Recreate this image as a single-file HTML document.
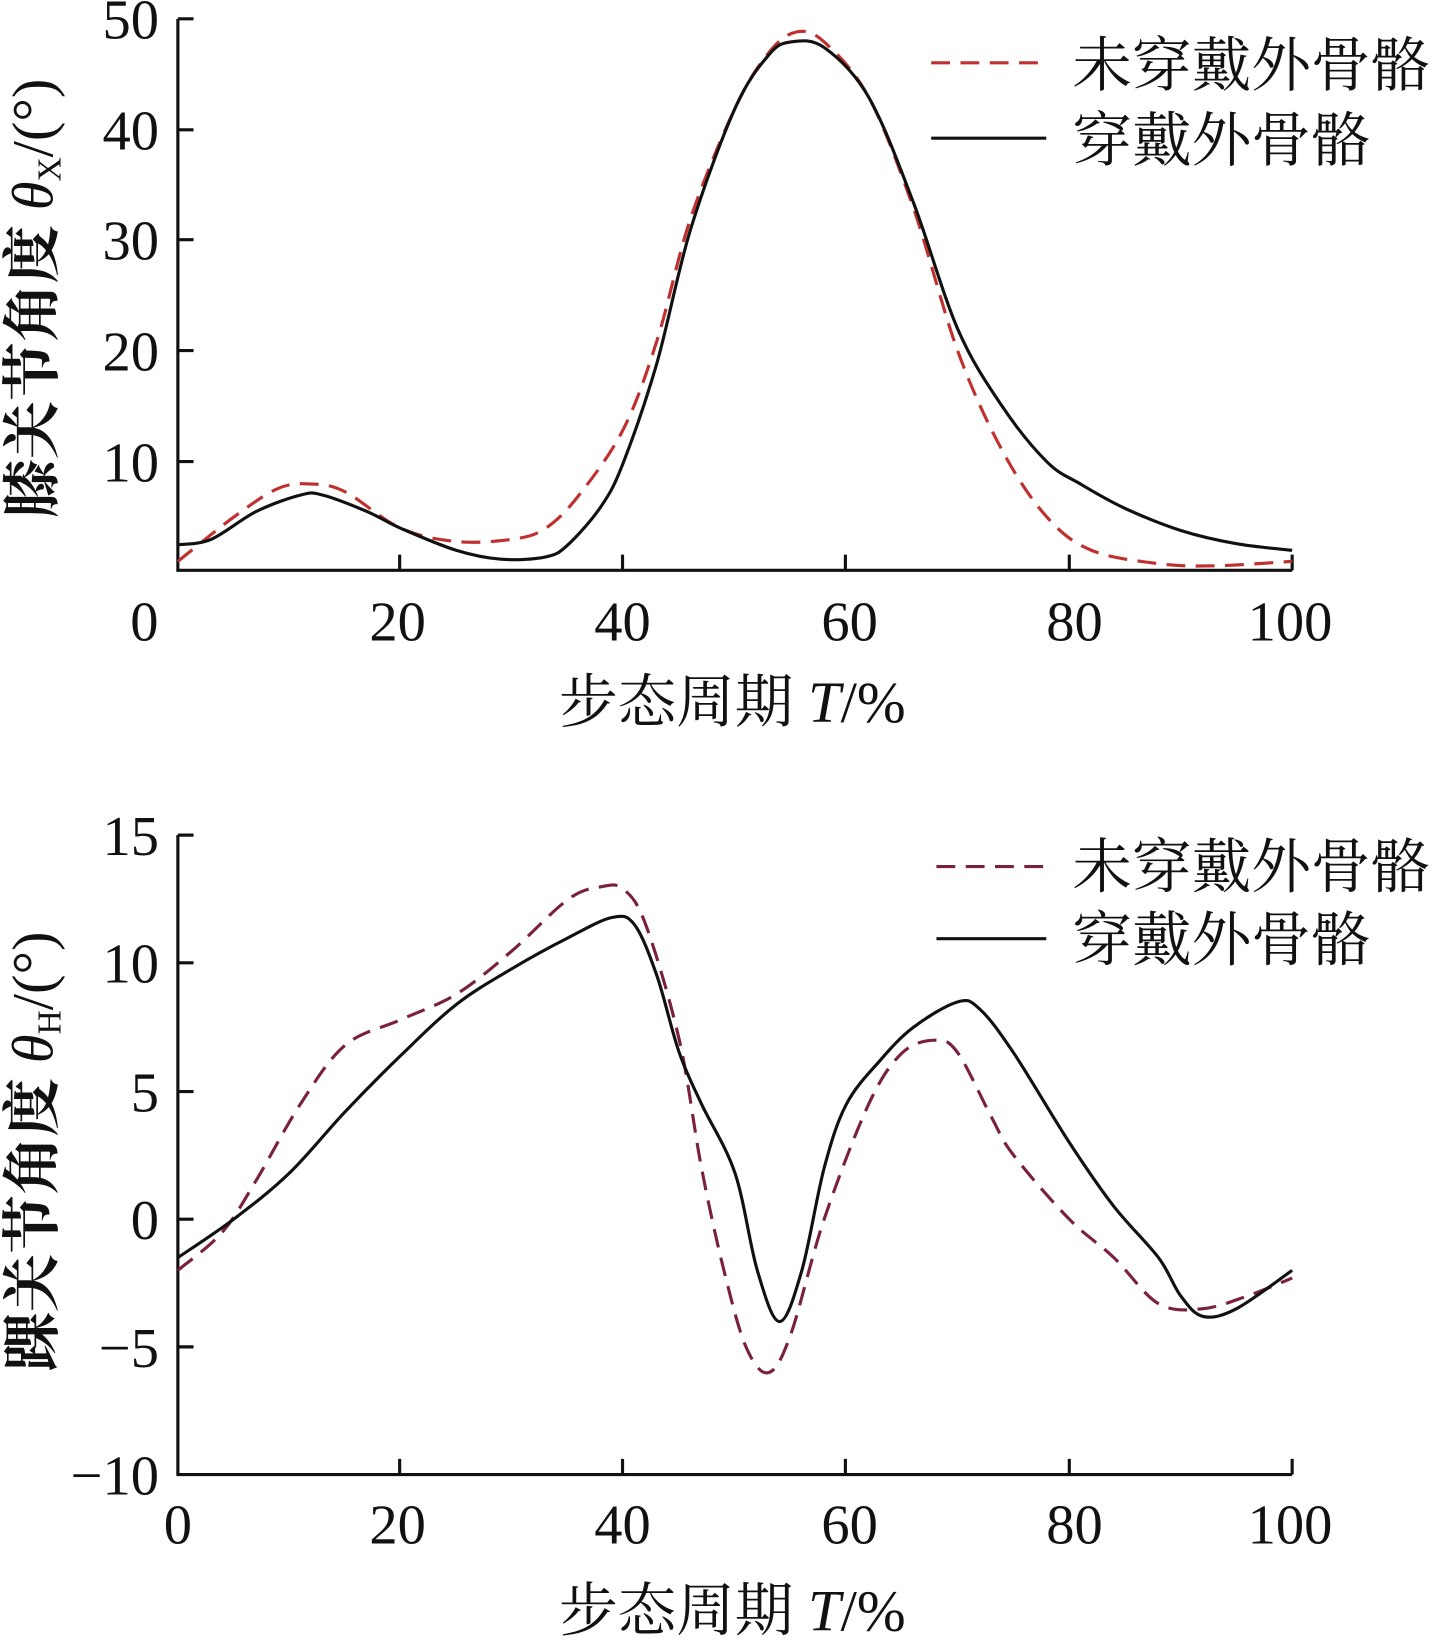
<!DOCTYPE html>
<html><head><meta charset="utf-8"><style>
html,body{margin:0;padding:0;background:#fff}
svg{display:block}
text{font-family:"Liberation Serif","Noto Serif CJK SC","Noto Sans CJK SC",serif;fill:#111}
</style></head><body>
<svg id="s" width="1447" height="1642" viewBox="0 0 1383 1569" preserveAspectRatio="none">
<g stroke="#111" stroke-width="3" fill="none">
<path d="M170 18 V545 H1235"/>
<path d="M170 18 H185 M170 124 H185 M170 229 H185 M170 335 H185 M170 441 H185"/>
<path d="M382 545 V530 M595 545 V530 M808 545 V530 M1022 545 V530 M1235 545 V530"/>
<path d="M170 798 V1409 H1235"/>
<path d="M170 798 H185 M170 920 H185 M170 1043 H185 M170 1165 H185 M170 1287 H185"/>
<path d="M382 1409 V1394 M595 1409 V1394 M808 1409 V1394 M1022 1409 V1394 M1235 1409 V1394"/>
</g>
<g font-size="54" text-anchor="end">
<text x="152" y="37">50</text><text x="152" y="143">40</text><text x="152" y="248">30</text><text x="152" y="354">20</text><text x="152" y="460">10</text>
<text x="152" y="817">15</text><text x="152" y="939">10</text><text x="152" y="1062">5</text><text x="152" y="1184">0</text><text x="152" y="1306">−5</text><text x="152" y="1428">−10</text>
</g>
<g font-size="54" text-anchor="middle">
<text x="138" y="612">0</text><text x="380" y="612">20</text><text x="595" y="612">40</text><text x="812" y="612">60</text><text x="1027" y="612">80</text><text x="1233" y="612">100</text>
<text x="170" y="1475">0</text><text x="380" y="1475">20</text><text x="595" y="1475">40</text><text x="812" y="1475">60</text><text x="1027" y="1475">80</text><text x="1233" y="1475">100</text>
<text x="700" y="690" font-size="56">步态周期 <tspan font-style="italic">T</tspan>/%</text>
<text x="700" y="1558" font-size="56">步态周期 <tspan font-style="italic">T</tspan>/%</text>
</g>
<g font-size="56" text-anchor="middle" font-weight="bold">
<text transform="translate(50 285) rotate(-90)">膝关节角度 <tspan font-style="italic" font-weight="normal">θ</tspan><tspan font-size="32" dy="8" font-weight="normal">X</tspan><tspan dy="-8" font-weight="normal">/(°)</tspan></text>
<text transform="translate(50 1100) rotate(-90)">踝关节角度 <tspan font-style="italic" font-weight="normal">θ</tspan><tspan font-size="32" dy="8" font-weight="normal">H</tspan><tspan dy="-8" font-weight="normal">/(°)</tspan></text>
</g>
<g font-size="57">
<text x="1025" y="82">未穿戴外骨骼</text><text x="1025" y="154">穿戴外骨骼</text>
<text x="1025" y="848">未穿戴外骨骼</text><text x="1025" y="918">穿戴外骨骼</text>
</g>
<path d="M890 60 H1000" stroke="#c0302f" stroke-width="3" stroke-dasharray="18 10"/>
<path d="M890 132 H1000" stroke="#111" stroke-width="3"/>
<path d="M895 828 H1000" stroke="#7a2040" stroke-width="3" stroke-dasharray="18 10"/>
<path d="M895 897 H1000" stroke="#111" stroke-width="3"/>
<g id="curves"></g>
</svg>
<script>
function X(t){return 170+t*10.65;}
function Y1(v){return 547-v*10.56;}
function Y2(v){return 1165-v*24.44;}
function path(pts,Y){
 var p=pts.map(function(a){return [X(a[0]),Y(a[1])];});
 var d="M"+p[0][0].toFixed(1)+" "+p[0][1].toFixed(1);
 for(var i=0;i<p.length-1;i++){
  var p0=p[Math.max(i-1,0)],p1=p[i],p2=p[i+1],p3=p[Math.min(i+2,p.length-1)];
  var c1=[p1[0]+(p2[0]-p0[0])/6,p1[1]+(p2[1]-p0[1])/6];
  var c2=[p2[0]-(p3[0]-p1[0])/6,p2[1]-(p3[1]-p1[1])/6];
  d+=" C"+c1[0].toFixed(1)+" "+c1[1].toFixed(1)+" "+c2[0].toFixed(1)+" "+c2[1].toFixed(1)+" "+p2[0].toFixed(1)+" "+p2[1].toFixed(1);
 }
 return d;
}
var ns="http://www.w3.org/2000/svg",g=document.getElementById("curves");
function add(pts,Y,col,dash){
 var e=document.createElementNS(ns,"path");
 e.setAttribute("d",path(pts,Y));e.setAttribute("fill","none");
 e.setAttribute("stroke",col);e.setAttribute("stroke-width","3");
 if(dash)e.setAttribute("stroke-dasharray","18 10");
 g.appendChild(e);
}
add([[0,1],[5,5],[9,7.6],[12,8],[15,7.3],[20,4],[25,2.8],[30,3],[33,4],[36,7],[40,13],[43,21],[46,32],[50,42],[53,47],[55.5,48.9],[58,48],[62,43],[66,33],[70,20],[74,11],[78,5],[82,2],[88,0.8],[93,0.6],[100,1]],Y1,"#c0302f",true);
add([[0,2.5],[3,3],[7,5.5],[11,7],[13,7],[17,5.5],[20,4],[25,2],[29,1.2],[33,1.4],[35,2.5],[38,6],[40,10],[43,19],[46,31],[50,42],[53,46.8],[55,48],[58,47.5],[62,43],[66,33.5],[70,22],[74,15],[78,10],[81,8],[85,5.8],[90,3.8],[95,2.6],[100,2]],Y1,"#111",false);
add([[0,-2],[4,-0.5],[7,1.5],[11,4.5],[15,6.8],[20,7.8],[25,8.8],[30,10.5],[35,12.5],[38,13],[40,12.9],[42,11.5],[45,7],[47,2],[49,-2],[51,-5],[53,-6],[55,-4.5],[58,0],[62,4.5],[65,6.5],[68,7],[70,6.5],[73,4],[75,2.5],[80,0],[84,-1.5],[88,-3.3],[92,-3.5],[96,-3],[100,-2.3]],Y2,"#7a2040",true);
add([[0,-1.5],[5,0],[10,1.8],[15,4.2],[20,6.4],[25,8.4],[30,9.8],[35,11],[39,11.8],[41,11.5],[43,9.5],[45,6.5],[47,4.5],[50,1.8],[52,-2],[54,-4],[56,-2],[58,2],[60,4.5],[63,6.2],[66,7.5],[70,8.5],[72,8.2],[75,6.5],[80,3],[84,0.5],[88,-1.5],[90,-3],[92,-3.8],[95,-3.5],[100,-2]],Y2,"#111",false);
</script>
</body></html>
